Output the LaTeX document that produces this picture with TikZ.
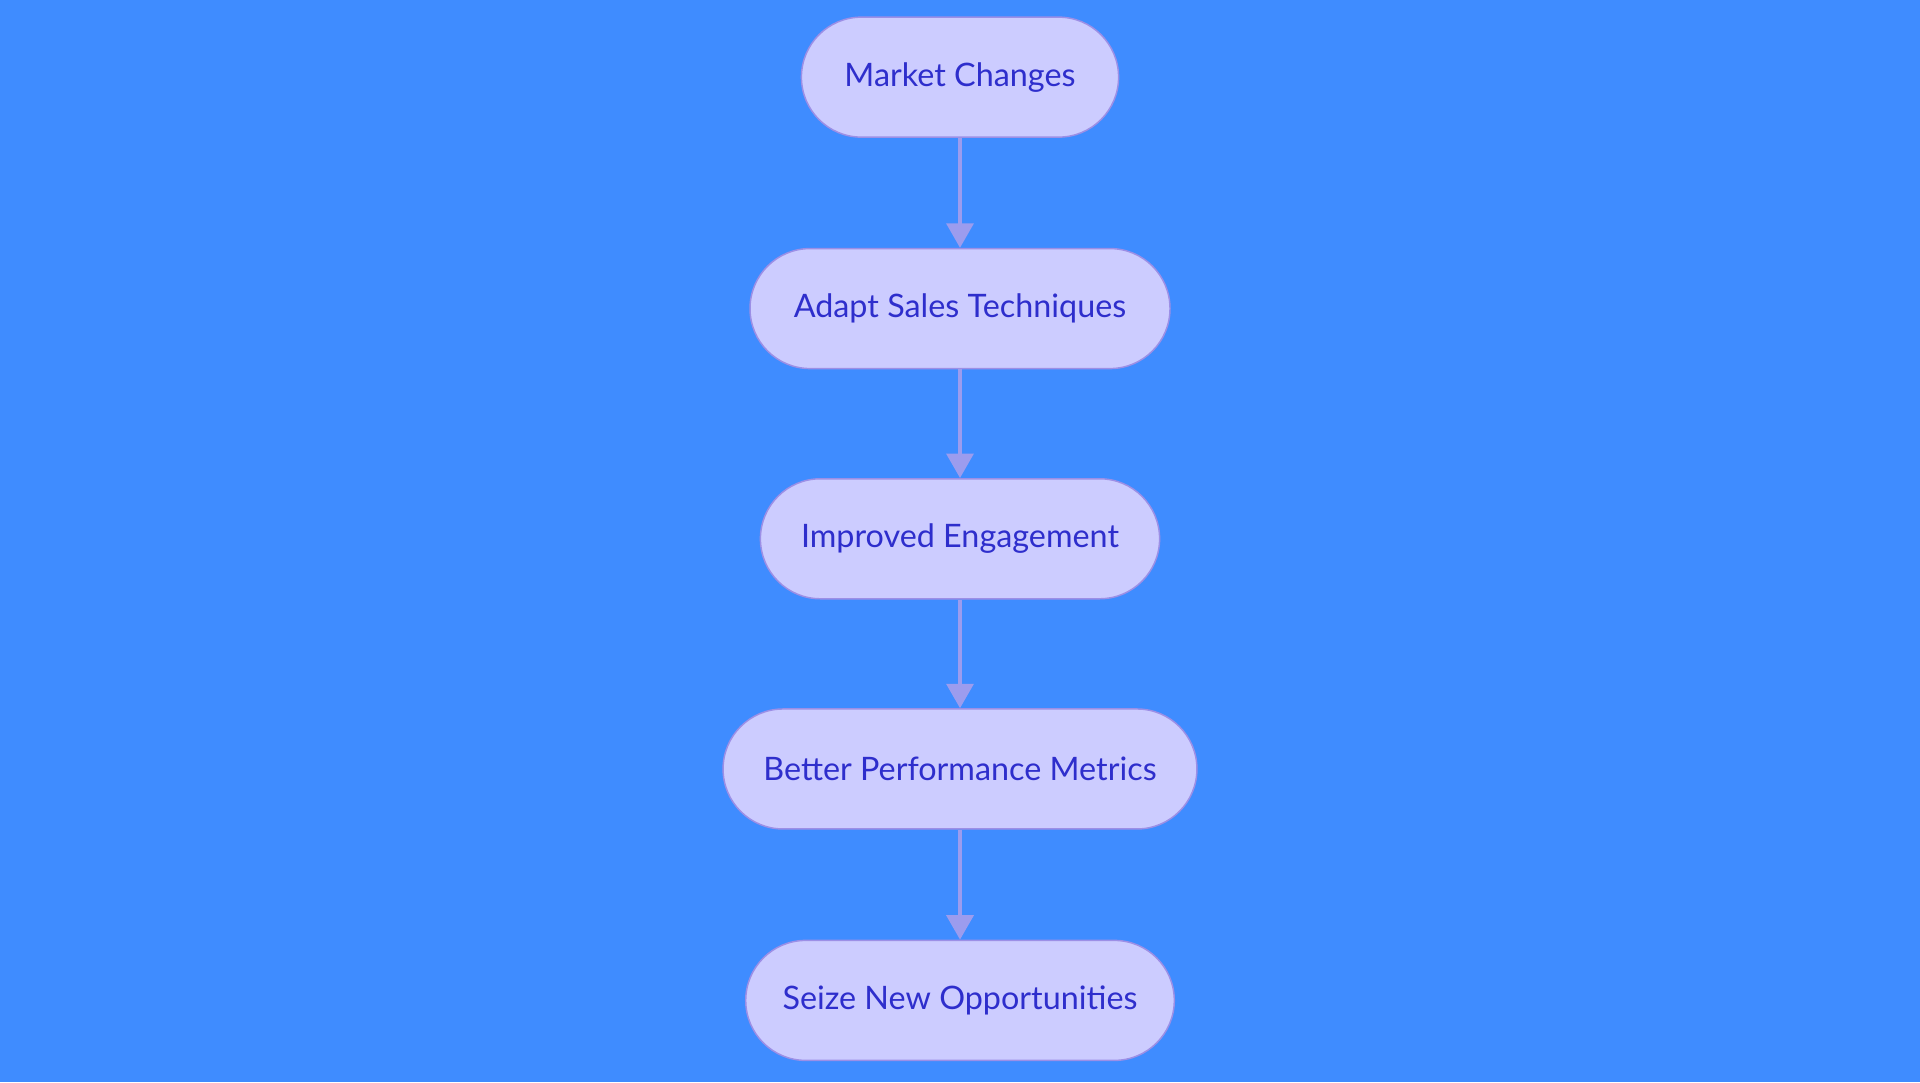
\documentclass[tikz,border=0pt]{standalone}
\usepackage{fontspec}
\setmainfont{Lato}
\usetikzlibrary{arrows.meta}
\definecolor{bg}{HTML}{3F8CFF}
\definecolor{nfill}{HTML}{CCCCFF}
\definecolor{nline}{HTML}{9C8FE6}
\definecolor{ntext}{HTML}{2E2ECC}
\definecolor{arr}{HTML}{9C9CEE}
\begin{document}
\begin{tikzpicture}[x=0.5pt,y=0.5pt,
  box/.style={draw=nline,fill=nfill,line width=0.6pt,rounded corners=24.5pt,
    minimum height=49pt,inner sep=0pt,text=ntext,font=\fontsize{13.2}{15}\selectfont},
  conn/.style={draw=arr,line width=1.5pt,-{Triangle[width=11pt,length=10pt]}}]
\fill[bg] (0,0) rectangle (1568,884);
\useasboundingbox (0,0) rectangle (1568,884);
\node[box,minimum width=129.5pt] (a) at (784,821) {Market Changes};
\node[box,minimum width=171.5pt] (b) at (784,632) {Adapt Sales Techniques};
\node[box,minimum width=163pt] (c) at (784,444) {Improved Engagement};
\node[box,minimum width=193.5pt] (d) at (784,256) {Better Performance Metrics};
\node[box,minimum width=175pt] (e) at (784,67) {Seize New Opportunities};
\draw[conn] (a) -- (b);
\draw[conn] (b) -- (c);
\draw[conn] (c) -- (d);
\draw[conn] (d) -- (e);
\end{tikzpicture}
\end{document}
